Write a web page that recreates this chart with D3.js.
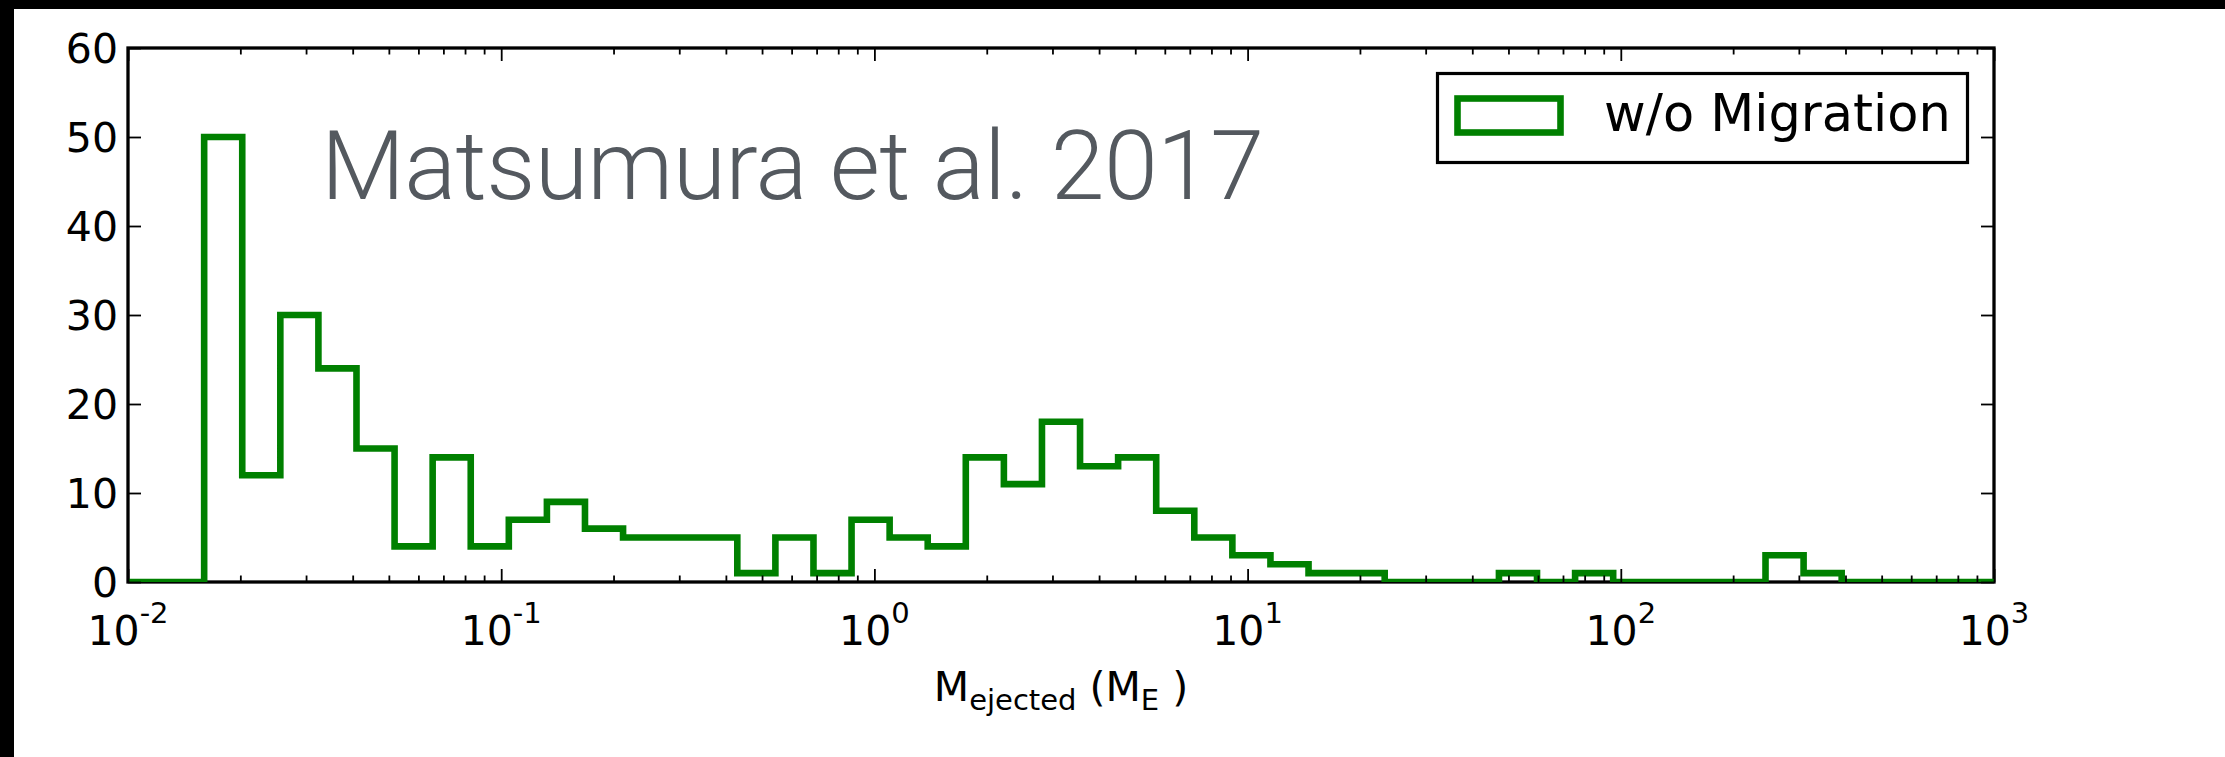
<!DOCTYPE html>
<html>
<head>
<meta charset="utf-8">
<script src="https://cdn.jsdelivr.net/npm/d3@7"></script>
<style>
  html, body { margin: 0; padding: 0; background: #fff; }
  svg { display: block; }
</style>
</head>
<body>
<svg id="chart" width="2225" height="757"></svg>
<script>
// Ejected-mass histogram: 49 bins evenly spaced in log10 between 1e-2 and 1e3 M_E
const binCounts = [0, 0, 50, 12, 30, 24, 15, 4, 14, 4, 7, 9, 6, 5, 5, 5, 1, 5, 1, 7, 5, 4,
                   14, 11, 18, 13, 14, 8, 5, 3, 2, 1, 1, 0, 0, 0, 1, 0, 1, 0, 0, 0, 0, 3, 1,
                   0, 0, 0, 0];
const xDomain = [1e-2, 1e3];
const yDomain = [0, 60];
const yTickValues = [0, 10, 20, 30, 40, 50, 60];
const xTickExponents = [-2, -1, 0, 1, 2, 3];
const seriesLabel = "w/o Migration";
const titleText = "Matsumura et al. 2017";

const W = 2225, H = 757;
const plot = { left: 128, right: 1994, top: 48, bottom: 582 };
const GREEN = "#008000";

const svg = d3.select("#chart");
svg.append("rect").attr("width", W).attr("height", H).attr("fill", "#fff");
// dark frame strips along the top and left edges
svg.append("rect").attr("x", 0).attr("y", 0).attr("width", W).attr("height", 9).attr("fill", "#000");
svg.append("rect").attr("x", 0).attr("y", 0).attr("width", 14).attr("height", H).attr("fill", "#000");

const x = d3.scaleLog().domain(xDomain).range([plot.left, plot.right]);
const y = d3.scaleLinear().domain(yDomain).range([plot.bottom, plot.top]);

// bin edges: log-spaced across the x domain
const lo = Math.log10(xDomain[0]), hi = Math.log10(xDomain[1]);
const nBins = binCounts.length;
const binEdges = d3.range(nBins + 1).map(i => Math.pow(10, lo + (hi - lo) * i / nBins));

// axes frame
svg.append("rect")
  .attr("x", plot.left).attr("y", plot.top)
  .attr("width", plot.right - plot.left).attr("height", plot.bottom - plot.top)
  .attr("fill", "none").attr("stroke", "#000").attr("stroke-width", 3.3);

// step outline of the histogram, clipped to the axes
svg.append("clipPath").attr("id", "plotClip")
  .append("rect")
  .attr("x", plot.left).attr("y", plot.top)
  .attr("width", plot.right - plot.left).attr("height", plot.bottom - plot.top);

const stepPts = [[binEdges[0], 0]];
binCounts.forEach((c, i) => {
  stepPts.push([binEdges[i], c]);
  stepPts.push([binEdges[i + 1], c]);
});
stepPts.push([binEdges[nBins], 0]);

const line = d3.line().x(d => x(d[0])).y(d => y(d[1]));
svg.append("path")
  .attr("clip-path", "url(#plotClip)")
  .attr("d", line(stepPts))
  .attr("fill", "none")
  .attr("stroke", GREEN)
  .attr("stroke-width", 6.6)
  .attr("stroke-linejoin", "miter");

// ticks (pointing inward on all four sides)
const majorX = xTickExponents.map(e => Math.pow(10, e));
const minorX = [];
xTickExponents.slice(0, -1).forEach(e => {
  for (let m = 2; m <= 9; m++) minorX.push(m * Math.pow(10, e));
});

function styleTicks(g) {
  g.select(".domain").remove();
  g.selectAll(".tick line").attr("stroke", "#000").attr("stroke-width", 1.8);
}

svg.append("g").attr("transform", `translate(0,${plot.bottom})`)
  .call(d3.axisBottom(x).tickValues(majorX).tickSize(-13).tickFormat(""))
  .call(styleTicks);
svg.append("g").attr("transform", `translate(0,${plot.bottom})`)
  .call(d3.axisBottom(x).tickValues(minorX).tickSize(-6.5).tickFormat(""))
  .call(styleTicks);
svg.append("g").attr("transform", `translate(0,${plot.top})`)
  .call(d3.axisTop(x).tickValues(majorX).tickSize(-13).tickFormat(""))
  .call(styleTicks);
svg.append("g").attr("transform", `translate(0,${plot.top})`)
  .call(d3.axisTop(x).tickValues(minorX).tickSize(-6.5).tickFormat(""))
  .call(styleTicks);

const yAxisLeft = svg.append("g").attr("transform", `translate(${plot.left},0)`)
  .call(d3.axisLeft(y).tickValues(yTickValues).tickSize(-13).tickPadding(10).tickFormat(d3.format("d")))
  .call(styleTicks);
yAxisLeft.selectAll(".tick text")
  .attr("font-family", "DejaVu Sans")
  .attr("font-size", 41)
  .attr("fill", "#000")
  .attr("dy", "0.36em");

svg.append("g").attr("transform", `translate(${plot.right},0)`)
  .call(d3.axisRight(y).tickValues(yTickValues).tickSize(-13).tickFormat(""))
  .call(styleTicks);

// decade labels 10^n under the x axis
const xLabels = svg.append("g")
  .attr("font-family", "DejaVu Sans")
  .attr("fill", "#000");
xTickExponents.forEach(e => {
  const t = xLabels.append("text")
    .attr("x", x(Math.pow(10, e)))
    .attr("y", 645)
    .attr("text-anchor", "middle");
  t.append("tspan").attr("font-size", 41).text("10");
  t.append("tspan").attr("font-size", 29).attr("dy", -22).text(String(e));
});

// x axis title: M_ejected (M_E)
const xTitle = svg.append("text")
  .attr("x", (plot.left + plot.right) / 2)
  .attr("y", 701)
  .attr("text-anchor", "middle")
  .attr("font-family", "DejaVu Sans")
  .attr("fill", "#000");
xTitle.append("tspan").attr("font-size", 41).text("M");
xTitle.append("tspan").attr("font-size", 29).attr("dy", 9).text("ejected");
xTitle.append("tspan").attr("font-size", 41).attr("dy", -9).text(" (M");
xTitle.append("tspan").attr("font-size", 29).attr("dy", 9).text("E");
xTitle.append("tspan").attr("font-size", 41).attr("dy", -9).text(" )");

// legend
const legend = svg.append("g");
legend.append("rect")
  .attr("x", 1437.5).attr("y", 73.5).attr("width", 530).attr("height", 89)
  .attr("fill", "#fff").attr("stroke", "#000").attr("stroke-width", 3.2);
legend.append("rect")
  .attr("x", 1457.5).attr("y", 98.5).attr("width", 103).attr("height", 34)
  .attr("fill", "none").attr("stroke", GREEN).attr("stroke-width", 6.6);
legend.append("text")
  .attr("x", 1604).attr("y", 131)
  .attr("font-family", "DejaVu Sans").attr("font-size", 51)
  .attr("fill", "#000")
  .text(seriesLabel);

// citation heading inside the plot
svg.append("text")
  .attr("x", 321).attr("y", 199)
  .attr("font-family", "Roboto, 'Open Sans', sans-serif")
  .attr("font-weight", 300)
  .attr("font-size", 97)
  .attr("fill", "#54595f")
  .attr("textLength", 943)
  .attr("lengthAdjust", "spacing")
  .text(titleText);
</script>
</body>
</html>
